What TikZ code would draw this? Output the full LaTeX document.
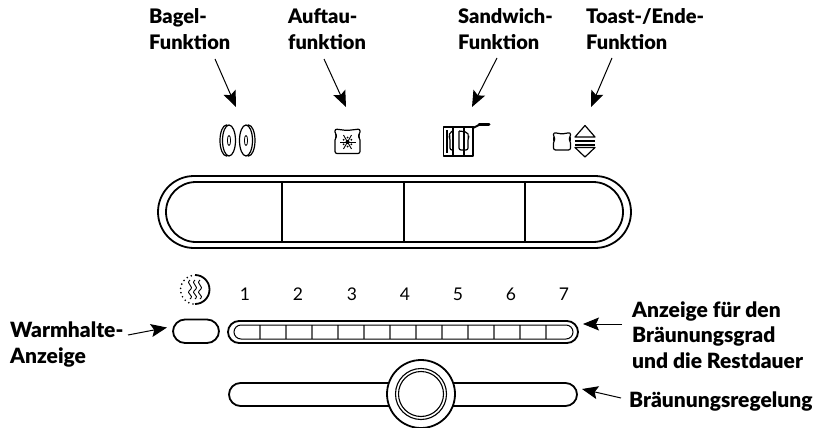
\documentclass[tikz,border=0pt]{standalone}
\usepackage{fontspec}
\setmainfont{Lato}[BoldFont={Lato Black}]
\usetikzlibrary{arrows.meta}
\tikzset{
  labeltext/.style={anchor=base west, inner sep=0, align=left, font=\fontsize{20}{26}\selectfont\bfseries},
  widetext/.style={labeltext, font=\fontsize{21}{25.5}\selectfont\bfseries},
  numtext/.style={inner sep=0, font=\fontsize{17.5}{18}\selectfont},
  callout/.style={black, line width=1pt, -{Stealth[length=16pt,width=13pt,inset=3pt]}},
  pillline/.style={black, line width=1.8pt},
  iconline/.style={black, line width=1.2pt, line join=round}
}
\begin{document}
\begin{tikzpicture}[x=1pt, y=-1pt]
\useasboundingbox (0,0) rectangle (817,428);
% labels
\node[labeltext] (bagellabel) at (149,50) {Bagel-\\Funktion};
\node[labeltext] (auftaulabel) at (288,50) {Auftau-\\funktion};
\node[labeltext] (sandwichlabel) at (458,50) {Sandwich-\\Funktion};
\node[labeltext] (toastlabel) at (586,50) {Toast-/Ende-\\Funktion};
\node[widetext] (warmlabel) at (10,363) {Warmhalte-\\Anzeige};
\node[widetext] (anzeigelabel) at (632,368) {Anzeige f\"ur den\\Br\"aunungsgrad\\und die Restdauer};
\node[widetext] (regellabel) at (629,407) {Br\"aunungsregelung};
% arrow ends
\coordinate (bagelfrom) at (215,59);
\coordinate (bageltip) at (236,107);
\coordinate (auftaufrom) at (324,59);
\coordinate (auftautip) at (346,107);
\coordinate (sandwichfrom) at (497,58);
\coordinate (sandwichtip) at (472,107);
\coordinate (toastfrom) at (612,58);
\coordinate (toasttip) at (591,107);
\coordinate (warmfrom) at (128,335);
\coordinate (warmtip) at (167,327.5);
\coordinate (anzeigefrom) at (622,324);
\coordinate (anzeigetip) at (583,324);
\coordinate (regelfrom) at (621,398);
\coordinate (regeltip) at (582,389);
\foreach \n in {bagel,auftau,sandwich,toast,warm,anzeige,regel} {
 \draw[callout] (\n from)--(\n tip);
}
% main panel
\draw[pillline, rounded corners=36] (158,176) rectangle (631,248);
\draw[pillline, rounded corners=30] (166,182) rectangle (623,242);
\foreach \x in {282,404,525} {
 \draw[pillline, line width=1.5pt] (\x,182)--(\x,242);
}
% bagel icon
\foreach \x/\s in {228/-1,247/1} {
 \draw[iconline, fill=white] ({\x+\s*1.5},140.5) ellipse (6.5 and 15.5);
 \draw[iconline, fill=white] ({\x-\s*1},140.5) ellipse (6.5 and 15.5);
 \draw[iconline, line width=.8pt] ({\x-\s*1},140.5) ellipse (1.6 and 5);
}
% defrost icon
\draw[iconline, rounded corners=2] (337,136)--(335,134)--(335,129)--(347,130.5)--(360,129)--(360,134)--(358,136)--(360,138)--(360,153.5)--(335,153.5)--(335,138)--cycle;
\foreach \a in {0,60,120} {
 \draw[black, line width=.9pt] ({347.5+8*cos(\a)},{142+8*sin(\a)})--({347.5-8*cos(\a)},{142-8*sin(\a)});
}
\foreach \a in {30,90,...,330} {
 \fill[black] ({347.5+4.5*cos(\a)},{142+4.5*sin(\a)}) circle (1);
}
\fill[black] (347.5,142) circle (2);
% sandwich icon
\draw[iconline, line width=1.8pt] (474,127)--(443.5,127)--(443.5,156)--(473,156)--(473,127);
\draw[iconline] (447,130)--(447,153);
\draw[iconline, line width=1.8pt] (453,127)--(453,156);
\draw[iconline, line width=1.8pt] (464,127)--(464,156);
\draw[iconline, rounded corners=2] (453,131)--(450,132)--(449,136)--(450,138)--(450,150)--(453,150);
\draw[iconline, rounded corners=2] (459,131)--(467,132)--(469,136)--(468,138)--(468,150)--(459,150)--(459,131);
\draw[iconline, line width=1.8pt] (473,128)--(479,125);
\draw[black, line width=3pt, line cap=round] (479,124.5)--(489,124.5);
% toast and up/down icon
\draw[iconline, rounded corners=2] (555,139)--(553.5,137)--(553.5,132.5)--(562,134)--(570.5,132.5)--(570.5,137)--(569,139)--(570.5,141)--(570.5,150)--(553.5,150)--(553.5,141)--cycle;
\draw[iconline] (575,137)--(585,125.5)--(595,137)--cycle;
\draw[iconline] (575,141)--(595,141);
\draw[iconline] (575,145)--(595,145);
\draw[iconline] (575,147.5)--(585,157)--(595,147.5)--cycle;
% keep warm icon
\draw[black, line width=1.8pt] (195,275) arc[start angle=-90, end angle=90, radius=14.5];
\draw[black, line width=1.8pt, line cap=round, dash pattern=on 0pt off 4.4pt] (193,304) arc[start angle=98, end angle=262, radius=14.5];
\foreach \x in {190,195,200} {
 \draw[black, line width=.9pt] (\x,280) .. controls (\x-5,284) and (\x+5,286) .. (\x,290) .. controls (\x-5,294) and (\x+5,295) .. (\x,299);
}
% numbers
\foreach \n/\x in {1/245,2/298,3/352,4/405,5/458,6/511,7/564} {
 \node[numtext] (num\n) at (\x,294) {\n};
}
% warm pill and browning bar
\draw[pillline, rounded corners=12] (173,319.5) rectangle (219,343);
\draw[pillline, rounded corners=11] (228,321) rectangle (578,343);
\foreach \x in {260,286,...,546} {
 \draw[black!60, line width=1.5pt] (\x,325)--(\x,339);
}
\draw[black, line width=1pt, rounded corners=7] (234,325) rectangle (573,339);
% browning slider
\draw[pillline, rounded corners=11.5] (229,383) rectangle (577,406);
\node[circle, fill=white, draw=black, line width=1.8pt, minimum size=68pt, inner sep=0] (knob) at (421,394) {};
\node[circle, draw=black, line width=1.1pt, minimum size=51pt, inner sep=0] (knobring) at (knob) {};
\node[circle, draw=black, line width=1.1pt, minimum size=45pt, inner sep=0] (knobface) at (knob) {};
\end{tikzpicture}
\end{document}
